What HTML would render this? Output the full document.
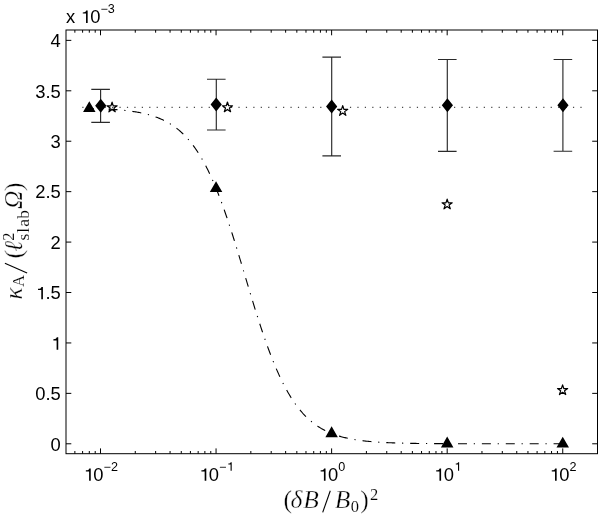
<!DOCTYPE html>
<html><head><meta charset="utf-8"><style>
html,body{margin:0;padding:0;background:#fff;}
svg{display:block;will-change:transform;}
.t{font-family:"Liberation Sans",sans-serif;font-size:17.5px;fill:#000;}
.m{font-family:"Liberation Serif",serif;font-size:23px;fill:#000;stroke:#fff;stroke-width:0.35px;}
</style></head><body>
<svg width="600" height="515" viewBox="0 0 600 515">
<defs><path id="one" d="M327 0H416V709H338C318 630 270 608 150 600V535H327Z"/></defs>
<rect width="600" height="515" fill="#fff"/>
<rect x="66.0" y="30.0" width="531.5" height="423.7" fill="none" stroke="#000" stroke-width="1"/>
<path d="M66.0 443.79h5.3M597.5 443.79h-5.3M66.0 393.36h5.3M597.5 393.36h-5.3M66.0 342.94h5.3M597.5 342.94h-5.3M66.0 292.51h5.3M597.5 292.51h-5.3M66.0 242.08h5.3M597.5 242.08h-5.3M66.0 191.65h5.3M597.5 191.65h-5.3M66.0 141.23h5.3M597.5 141.23h-5.3M66.0 90.8h5.3M597.5 90.8h-5.3M66.0 40.37h5.3M597.5 40.37h-5.3M100.5 453.7v-5.3M100.5 30.0v5.3M216.06 453.7v-5.3M216.06 30.0v5.3M331.62 453.7v-5.3M331.62 30.0v5.3M447.18 453.7v-5.3M447.18 30.0v5.3M562.74 453.7v-5.3M562.74 30.0v5.3M74.86 453.7v-2.7M74.86 30.0v2.7M82.6 453.7v-2.7M82.6 30.0v2.7M89.3 453.7v-2.7M89.3 30.0v2.7M95.21 453.7v-2.7M95.21 30.0v2.7M135.28 453.7v-2.7M135.28 30.0v2.7M155.63 453.7v-2.7M155.63 30.0v2.7M170.07 453.7v-2.7M170.07 30.0v2.7M181.27 453.7v-2.7M181.27 30.0v2.7M190.42 453.7v-2.7M190.42 30.0v2.7M198.16 453.7v-2.7M198.16 30.0v2.7M204.86 453.7v-2.7M204.86 30.0v2.7M210.77 453.7v-2.7M210.77 30.0v2.7M250.84 453.7v-2.7M250.84 30.0v2.7M271.19 453.7v-2.7M271.19 30.0v2.7M285.63 453.7v-2.7M285.63 30.0v2.7M296.83 453.7v-2.7M296.83 30.0v2.7M305.98 453.7v-2.7M305.98 30.0v2.7M313.72 453.7v-2.7M313.72 30.0v2.7M320.42 453.7v-2.7M320.42 30.0v2.7M326.33 453.7v-2.7M326.33 30.0v2.7M366.4 453.7v-2.7M366.4 30.0v2.7M386.75 453.7v-2.7M386.75 30.0v2.7M401.19 453.7v-2.7M401.19 30.0v2.7M412.39 453.7v-2.7M412.39 30.0v2.7M421.54 453.7v-2.7M421.54 30.0v2.7M429.28 453.7v-2.7M429.28 30.0v2.7M435.98 453.7v-2.7M435.98 30.0v2.7M441.89 453.7v-2.7M441.89 30.0v2.7M481.96 453.7v-2.7M481.96 30.0v2.7M502.31 453.7v-2.7M502.31 30.0v2.7M516.75 453.7v-2.7M516.75 30.0v2.7M527.95 453.7v-2.7M527.95 30.0v2.7M537.1 453.7v-2.7M537.1 30.0v2.7M544.84 453.7v-2.7M544.84 30.0v2.7M551.54 453.7v-2.7M551.54 30.0v2.7M557.45 453.7v-2.7M557.45 30.0v2.7" stroke="#000" stroke-width="1" fill="none"/>
<path d="M82.3 107.45h1.2M89.73 107.45h1.2M97.17 107.45h1.2M104.6 107.45h1.2M112.04 107.45h1.2M119.47 107.45h1.2M126.91 107.45h1.2M134.34 107.45h1.2M141.77 107.45h1.2M149.21 107.45h1.2M156.64 107.45h1.2M164.08 107.45h1.2M171.51 107.45h1.2M178.95 107.45h1.2M186.38 107.45h1.2M193.81 107.45h1.2M201.25 107.45h1.2M208.68 107.45h1.2M216.12 107.45h1.2M223.55 107.45h1.2M230.99 107.45h1.2M238.42 107.45h1.2M245.86 107.45h1.2M253.29 107.45h1.2M260.72 107.45h1.2M268.16 107.45h1.2M275.59 107.45h1.2M283.03 107.45h1.2M290.46 107.45h1.2M297.9 107.45h1.2M305.33 107.45h1.2M312.76 107.45h1.2M320.2 107.45h1.2M327.63 107.45h1.2M335.07 107.45h1.2M342.5 107.45h1.2M349.94 107.45h1.2M357.37 107.45h1.2M364.8 107.45h1.2M372.24 107.45h1.2M379.67 107.45h1.2M387.11 107.45h1.2M394.54 107.45h1.2M401.98 107.45h1.2M409.41 107.45h1.2M416.84 107.45h1.2M424.28 107.45h1.2M431.71 107.45h1.2M439.15 107.45h1.2M446.58 107.45h1.2M454.02 107.45h1.2M461.45 107.45h1.2M468.89 107.45h1.2M476.32 107.45h1.2M483.75 107.45h1.2M491.19 107.45h1.2M498.62 107.45h1.2M506.06 107.45h1.2M513.49 107.45h1.2M520.93 107.45h1.2M528.36 107.45h1.2M535.79 107.45h1.2M543.23 107.45h1.2M550.66 107.45h1.2M558.1 107.45h1.2M565.53 107.45h1.2M572.97 107.45h1.2M580.4 107.45h1.2" stroke="#4a4a4a" stroke-width="1.3" fill="none"/>
<polyline points="89.3,108.32 90.24,108.34 91.19,108.37 92.14,108.4 93.09,108.43 94.03,108.46 94.98,108.49 95.93,108.52 96.87,108.56 97.82,108.59 98.77,108.63 99.71,108.67 100.66,108.7 101.61,108.75 102.55,108.79 103.5,108.83 104.45,108.88 105.4,108.92 106.34,108.97 107.29,109.03 108.24,109.08 109.18,109.13 110.13,109.19 111.08,109.25 112.02,109.31 112.97,109.38 113.92,109.44 114.86,109.51 115.81,109.58 116.76,109.66 117.7,109.73 118.65,109.81 119.6,109.9 120.55,109.98 121.49,110.07 122.44,110.16 123.39,110.26 124.33,110.36 125.28,110.46 126.23,110.57 127.17,110.68 128.12,110.8 129.07,110.92 130.01,111.05 130.96,111.17 131.91,111.31 132.85,111.45 133.8,111.59 134.75,111.74 135.7,111.9 136.64,112.06 137.59,112.23 138.54,112.4 139.48,112.58 140.43,112.77 141.38,112.96 142.32,113.17 143.27,113.37 144.22,113.59 145.16,113.82 146.11,114.05 147.06,114.29 148,114.54 148.95,114.8 149.9,115.07 150.85,115.35 151.79,115.64 152.74,115.94 153.69,116.25 154.63,116.57 155.58,116.91 156.53,117.25 157.47,117.61 158.42,117.98 159.37,118.37 160.31,118.77 161.26,119.18 162.21,119.61 163.15,120.05 164.1,120.51 165.05,120.98 166,121.48 166.94,121.99 167.89,122.51 168.84,123.06 169.78,123.62 170.73,124.21 171.68,124.81 172.62,125.44 173.57,126.08 174.52,126.75 175.46,127.45 176.41,128.16 177.36,128.9 178.3,129.66 179.25,130.45 180.2,131.27 181.15,132.11 182.09,132.98 183.04,133.88 183.99,134.81 184.93,135.76 185.88,136.75 186.83,137.77 187.77,138.82 188.72,139.91 189.67,141.02 190.61,142.18 191.56,143.36 192.51,144.59 193.45,145.84 194.4,147.14 195.35,148.48 196.3,149.85 197.24,151.26 198.19,152.71 199.14,154.21 200.08,155.74 201.03,157.32 201.98,158.94 202.92,160.6 203.87,162.3 204.82,164.05 205.76,165.85 206.71,167.69 207.66,169.57 208.6,171.5 209.55,173.47 210.5,175.49 211.45,177.56 212.39,179.67 213.34,181.83 214.29,184.04 215.23,186.29 216.18,188.58 217.13,190.92 218.07,193.31 219.02,195.74 219.97,198.22 220.91,200.74 221.86,203.3 222.81,205.9 223.75,208.54 224.7,211.23 225.65,213.95 226.6,216.71 227.54,219.51 228.49,222.35 229.44,225.21 230.38,228.12 231.33,231.05 232.28,234.01 233.22,237 234.17,240.01 235.12,243.05 236.06,246.12 237.01,249.2 237.96,252.3 238.9,255.42 239.85,258.55 240.8,261.69 241.75,264.85 242.69,268.01 243.64,271.17 244.59,274.34 245.53,277.51 246.48,280.68 247.43,283.85 248.37,287.01 249.32,290.16 250.27,293.31 251.21,296.44 252.16,299.55 253.11,302.65 254.05,305.73 255,308.79 255.95,311.83 256.9,314.84 257.84,317.82 258.79,320.78 259.74,323.71 260.68,326.61 261.63,329.47 262.58,332.3 263.52,335.09 264.47,337.85 265.42,340.57 266.36,343.25 267.31,345.88 268.26,348.48 269.2,351.04 270.15,353.55 271.1,356.02 272.05,358.44 272.99,360.82 273.94,363.16 274.89,365.45 275.83,367.69 276.78,369.89 277.73,372.05 278.67,374.15 279.62,376.21 280.57,378.23 281.51,380.2 282.46,382.12 283.41,384 284.35,385.83 285.3,387.62 286.25,389.36 287.2,391.06 288.14,392.71 289.09,394.33 290.04,395.9 290.98,397.43 291.93,398.91 292.88,400.36 293.82,401.77 294.77,403.14 295.72,404.47 296.66,405.76 297.61,407.01 298.56,408.23 299.5,409.41 300.45,410.56 301.4,411.67 302.35,412.75 303.29,413.8 304.24,414.81 305.19,415.8 306.13,416.75 307.08,417.67 308.03,418.57 308.97,419.43 309.92,420.27 310.87,421.09 311.81,421.87 312.76,422.63 313.71,423.37 314.66,424.08 315.6,424.77 316.55,425.43 317.5,426.08 318.44,426.7 319.39,427.3 320.34,427.88 321.28,428.45 322.23,428.99 323.18,429.51 324.12,430.02 325.07,430.51 326.02,430.98 326.96,431.44 327.91,431.88 328.86,432.31 329.81,432.72 330.75,433.12 331.7,433.5 332.65,433.87 333.59,434.23 334.54,434.57 335.49,434.9 336.43,435.22 337.38,435.53 338.33,435.83 339.27,436.12 340.22,436.4 341.17,436.67 342.11,436.92 343.06,437.17 344.01,437.41 344.96,437.65 345.9,437.87 346.85,438.08 347.8,438.29 348.74,438.49 349.69,438.69 350.64,438.87 351.58,439.05 352.53,439.22 353.48,439.39 354.42,439.55 355.37,439.71 356.32,439.86 357.26,440 358.21,440.14 359.16,440.27 360.11,440.4 361.05,440.53 362,440.65 362.95,440.76 363.89,440.87 364.84,440.98 365.79,441.08 366.73,441.18 367.68,441.28 368.63,441.37 369.57,441.46 370.52,441.55 371.47,441.63 372.41,441.71 373.36,441.78 374.31,441.86 375.26,441.93 376.2,442 377.15,442.06 378.1,442.13 379.04,442.19 379.99,442.25 380.94,442.3 381.88,442.36 382.83,442.41 383.78,442.46 384.72,442.51 385.67,442.56 386.62,442.6 387.56,442.65 388.51,442.69 389.46,442.73 390.41,442.77 391.35,442.81 392.3,442.84 393.25,442.88 394.19,442.91 395.14,442.94 396.09,442.98 397.03,443.01 397.98,443.04 398.93,443.06 399.87,443.09 400.82,443.12 401.77,443.14 402.71,443.16 403.66,443.19 404.61,443.21 405.56,443.23 406.5,443.25 407.45,443.27 408.4,443.29 409.34,443.31 410.29,443.33 411.24,443.34 412.18,443.36 413.13,443.38 414.08,443.39 415.02,443.41 415.97,443.42 416.92,443.43 417.86,443.45 418.81,443.46 419.76,443.47 420.71,443.48 421.65,443.5 422.6,443.51 423.55,443.52 424.49,443.53 425.44,443.54 426.39,443.55 427.33,443.56 428.28,443.56 429.23,443.57 430.17,443.58 431.12,443.59 432.07,443.6 433.01,443.6 433.96,443.61 434.91,443.62 435.86,443.62 436.8,443.63 437.75,443.63 438.7,443.64 439.64,443.65 440.59,443.65 441.54,443.66 442.48,443.66 443.43,443.67 444.38,443.67 445.32,443.68 446.27,443.68 447.22,443.68 448.16,443.69 449.11,443.69 450.06,443.7 451.01,443.7 451.95,443.7 452.9,443.71 453.85,443.71 454.79,443.71 455.74,443.71 456.69,443.72 457.63,443.72 458.58,443.72 459.53,443.72 460.47,443.73 461.42,443.73 462.37,443.73 463.31,443.73 464.26,443.74 465.21,443.74 466.16,443.74 467.1,443.74 468.05,443.74 469,443.75 469.94,443.75 470.89,443.75 471.84,443.75 472.78,443.75 473.73,443.75 474.68,443.75 475.62,443.76 476.57,443.76 477.52,443.76 478.46,443.76 479.41,443.76 480.36,443.76 481.31,443.76 482.25,443.76 483.2,443.76 484.15,443.77 485.09,443.77 486.04,443.77 486.99,443.77 487.93,443.77 488.88,443.77 489.83,443.77 490.77,443.77 491.72,443.77 492.67,443.77 493.61,443.77 494.56,443.77 495.51,443.77 496.46,443.78 497.4,443.78 498.35,443.78 499.3,443.78 500.24,443.78 501.19,443.78 502.14,443.78 503.08,443.78 504.03,443.78 504.98,443.78 505.92,443.78 506.87,443.78 507.82,443.78 508.76,443.78 509.71,443.78 510.66,443.78 511.61,443.78 512.55,443.78 513.5,443.78 514.45,443.78 515.39,443.78 516.34,443.78 517.29,443.78 518.23,443.78 519.18,443.78 520.13,443.78 521.07,443.78 522.02,443.78 522.97,443.78 523.92,443.78 524.86,443.79 525.81,443.79 526.76,443.79 527.7,443.79 528.65,443.79 529.6,443.79 530.54,443.79 531.49,443.79 532.44,443.79 533.38,443.79 534.33,443.79 535.28,443.79 536.22,443.79 537.17,443.79 538.12,443.79 539.07,443.79 540.01,443.79 540.96,443.79 541.91,443.79 542.85,443.79 543.8,443.79 544.75,443.79 545.69,443.79 546.64,443.79 547.59,443.79 548.53,443.79 549.48,443.79 550.43,443.79 551.37,443.79 552.32,443.79 553.27,443.79 554.22,443.79 555.16,443.79 556.11,443.79 557.06,443.79 558,443.79 558.95,443.79 559.9,443.79 560.84,443.79 561.79,443.79 562.74,443.79" fill="none" stroke="#000" stroke-width="1.1" stroke-dasharray="9 6.8 1.2 6.9" stroke-dashoffset="4.6"/>
<path d="M100.6 89.4V122.3M91.3 89.4h18.6M91.3 122.3h18.6M216.3 79.2V130M207 79.2h18.6M207 130h18.6M331.7 57.1V155.9M322.4 57.1h18.6M322.4 155.9h18.6M447.3 59.5V151.3M438 59.5h18.6M438 151.3h18.6M562.9 59.5V151.2M553.6 59.5h18.6M553.6 151.2h18.6" stroke="#2a2a2a" stroke-width="1.15" fill="none"/>
<path d="M89.3 101.2L95.55 112.03L83.05 112.03ZM216.06 181.17L222.31 191.99L209.81 191.99ZM331.62 426.35L337.87 437.17L325.37 437.17ZM447.18 436.57L453.43 447.39L440.93 447.39ZM562.74 436.67L568.99 447.5L556.49 447.5Z" fill="#000"/>
<path d="M100.75 98.85L106.35 105.8L100.75 112.75L95.15 105.8ZM216.2 97.55L221.8 104.5L216.2 111.45L210.6 104.5ZM331.65 99.55L337.25 106.5L331.65 113.45L326.05 106.5ZM447.4 98.25L453 105.2L447.4 112.15L441.8 105.2ZM562.98 98.35L568.58 105.3L562.98 112.25L557.38 105.3Z" fill="#000"/>
<path d="M112.08 102.12L113.28 105.82L117.17 105.82L114.02 108.1L115.22 111.8L112.08 109.51L108.94 111.8L110.14 108.1L106.99 105.82L110.88 105.82ZM227.45 102.05L228.65 105.75L232.54 105.75L229.39 108.03L230.59 111.73L227.45 109.44L224.31 111.73L225.51 108.03L222.36 105.75L226.25 105.75ZM342.7 105.65L343.9 109.35L347.79 109.35L344.64 111.63L345.84 115.33L342.7 113.04L339.56 115.33L340.76 111.63L337.61 109.35L341.5 109.35ZM447.15 199.12L448.35 202.82L452.24 202.82L449.09 205.1L450.29 208.8L447.15 206.51L444.01 208.8L445.21 205.1L442.06 202.82L445.95 202.82ZM562.6 384.85L563.8 388.55L567.69 388.55L564.54 390.83L565.74 394.53L562.6 392.24L559.46 394.53L560.66 390.83L557.51 388.55L561.4 388.55Z" fill="none" stroke="#000" stroke-width="1.2" stroke-linejoin="round"/>
<g class="t">
<g transform="translate(60.4,0) scale(1.05,1) translate(-60.4,0)"><text x="51.07" y="450.59" font-size="17.5">0</text></g><g transform="translate(60.4,0) scale(1.05,1) translate(-60.4,0)"><text x="36.47" y="400.16" font-size="17.5">0.5</text></g><g transform="translate(60.4,0) scale(1.05,1) translate(-60.4,0)"><use href="#one" transform="translate(51.07,349.74) scale(0.0175,-0.0175)"/></g><g transform="translate(60.4,0) scale(1.05,1) translate(-60.4,0)"><use href="#one" transform="translate(36.47,299.31) scale(0.0175,-0.0175)"/><text x="46.2" y="299.31" font-size="17.5">.5</text></g><g transform="translate(60.4,0) scale(1.05,1) translate(-60.4,0)"><text x="51.07" y="248.88" font-size="17.5">2</text></g><g transform="translate(60.4,0) scale(1.05,1) translate(-60.4,0)"><text x="36.47" y="198.45" font-size="17.5">2.5</text></g><g transform="translate(60.4,0) scale(1.05,1) translate(-60.4,0)"><text x="51.07" y="148.03" font-size="17.5">3</text></g><g transform="translate(60.4,0) scale(1.05,1) translate(-60.4,0)"><text x="36.47" y="97.6" font-size="17.5">3.5</text></g><g transform="translate(60.4,0) scale(1.05,1) translate(-60.4,0)"><text x="51.07" y="47.17" font-size="17.5">4</text></g>
<g transform="translate(100.5,0) scale(1.05,1) translate(-100.5,0)"><use href="#one" transform="translate(83.93,480.8) scale(0.0175,-0.0175)"/><text x="93.66" y="480.8" font-size="17.5">0</text><text x="103.39" y="470.8" font-size="12">−2</text></g><g transform="translate(216.06,0) scale(1.05,1) translate(-216.06,0)"><use href="#one" transform="translate(199.49,480.8) scale(0.0175,-0.0175)"/><text x="209.22" y="480.8" font-size="17.5">0</text><text x="218.95" y="470.8" font-size="12">−</text><use href="#one" transform="translate(225.96,470.8) scale(0.0120,-0.0120)"/></g><g transform="translate(331.62,0) scale(1.05,1) translate(-331.62,0)"><use href="#one" transform="translate(318.55,480.8) scale(0.0175,-0.0175)"/><text x="328.28" y="480.8" font-size="17.5">0</text><text x="338.01" y="470.8" font-size="12">0</text></g><g transform="translate(447.18,0) scale(1.05,1) translate(-447.18,0)"><use href="#one" transform="translate(434.11,480.8) scale(0.0175,-0.0175)"/><text x="443.84" y="480.8" font-size="17.5">0</text><use href="#one" transform="translate(453.57,470.8) scale(0.0120,-0.0120)"/></g><g transform="translate(562.74,0) scale(1.05,1) translate(-562.74,0)"><use href="#one" transform="translate(549.67,480.8) scale(0.0175,-0.0175)"/><text x="559.4" y="480.8" font-size="17.5">0</text><text x="569.13" y="470.8" font-size="12">2</text></g><g transform="translate(66,0) scale(1.05,1) translate(-66,0)"><text x="66" y="22.9" font-size="17.5">x</text><use href="#one" transform="translate(79.35,22.9) scale(0.0175,-0.0175)"/><text x="89.08" y="22.9" font-size="17.5">0</text><text x="98.81" y="12.9" font-size="12">−3</text></g>
</g>
<g class="m">
<text x="287.7" y="507.8" text-anchor="middle" font-size="25.5">(</text><text x="296.5" y="507.5" text-anchor="middle" font-style="italic" font-size="25.5">δ</text><text x="311" y="507.5" text-anchor="middle" font-style="italic" font-size="25.5">B</text><text x="342.6" y="507.5" text-anchor="middle" font-style="italic" font-size="25.5">B</text><text x="354.9" y="512" text-anchor="middle" font-size="16.5" stroke-width="0.12">0</text><text x="364.5" y="507.8" text-anchor="middle" font-size="25.5">)</text><text x="374.2" y="499.5" text-anchor="middle" font-size="16.5" stroke-width="0.12">2</text><path d="M322.7 512.4L330.3 490.7" stroke="#000" stroke-width="1.1" fill="none"/>
<g transform="translate(22,300) rotate(-90)"><text x="6.7" y="0" text-anchor="middle" font-style="italic" font-size="25.5">κ</text><text x="19.1" y="2.4" text-anchor="middle" font-size="16.5" stroke-width="0.12">A</text><text x="45.65" y="0.3" text-anchor="middle" font-size="25.5">(</text><text x="53.6" y="0" text-anchor="middle" font-style="italic" font-size="25.5">ℓ</text><text x="63.4" y="-8.1" text-anchor="middle" font-size="16.5" stroke-width="0.12">2</text><text x="63" y="6.6" text-anchor="middle" font-size="17.5" stroke-width="0.12">s</text><text x="69.65" y="6.6" text-anchor="middle" font-size="17.5" stroke-width="0.12">l</text><text x="77.2" y="6.6" text-anchor="middle" font-size="17.5" stroke-width="0.12">a</text><text x="85.65" y="6.6" text-anchor="middle" font-size="17.5" stroke-width="0.12">b</text><text x="100.15" y="0" text-anchor="middle" font-style="italic" font-size="25.5">Ω</text><text x="113.3" y="0.3" text-anchor="middle" font-size="25.5">)</text></g>
<path d="M27.1 273.1L4.9 263.2" stroke="#000" stroke-width="1.1" fill="none"/>
</g>
</svg>
</body></html>
